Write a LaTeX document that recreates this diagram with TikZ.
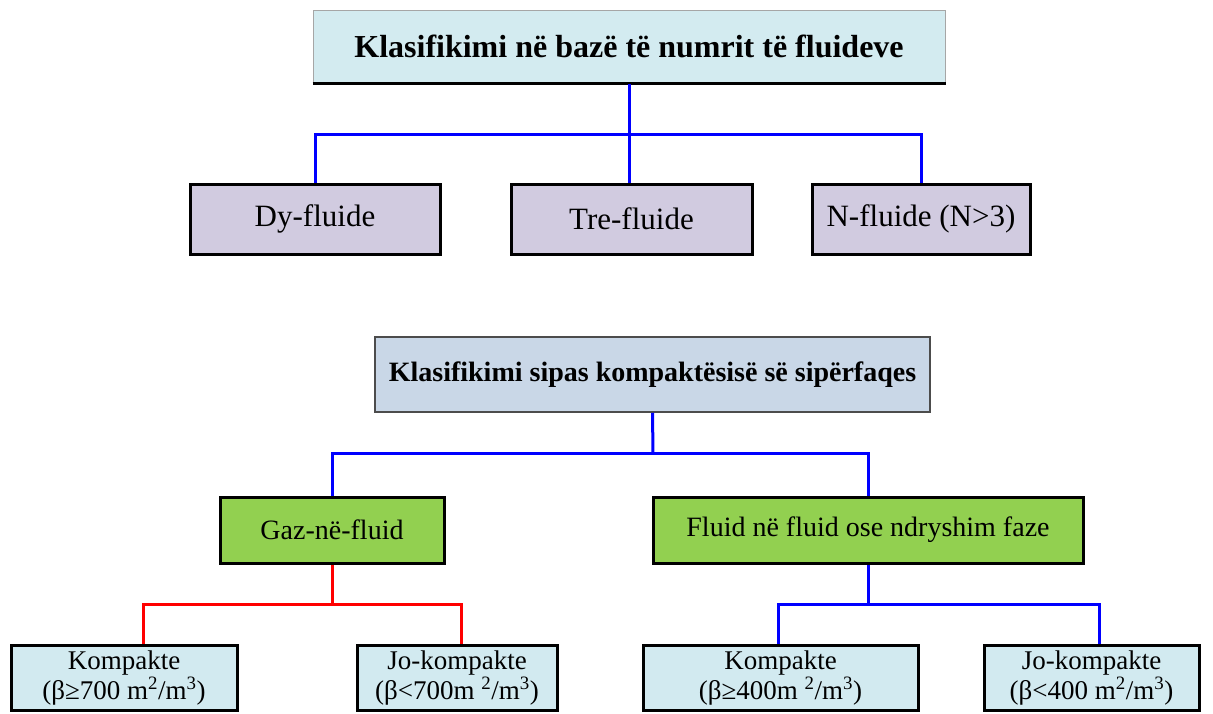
\documentclass[tikz,border=0pt]{standalone}
\usepackage{fontspec}
\setmainfont{Liberation Serif}
\usepackage{xcolor}
\usetikzlibrary{calc}

\definecolor{headcyan}{HTML}{D3EBF0}
\definecolor{lavbox}{HTML}{D1CBE0}
\definecolor{headsteel}{HTML}{C9D7E7}
\definecolor{grnbox}{HTML}{92D050}
\definecolor{leafcyan}{HTML}{D2EAF0}

\begin{document}
\begin{tikzpicture}[
  x=1pt,y=-1pt,
  box/.style={draw,line width=3pt,inner sep=0pt,align=center},
  head/.style={inner sep=0pt,align=center,font=\bfseries\fontsize{32}{36}\selectfont},
  lav/.style={box,fill=lavbox,minimum height=70pt,font=\fontsize{31}{36}\selectfont},
  grn/.style={box,fill=grnbox,minimum height=66pt,font=\fontsize{28}{32}\selectfont},
  leaf/.style={box,fill=leafcyan,minimum height=65pt,font=\fontsize{27}{30}\selectfont},
  bline/.style={blue,line width=3pt},
  rline/.style={red,line width=3pt}]

  \useasboundingbox (0,0) rectangle (1213,713);

  % First classification
  \node[head,fill=headcyan,draw=gray!70,line width=1pt,
        minimum width=632pt,minimum height=73pt] (t1) at (629,46.5)
        {Klasifikimi në bazë të numrit të fluideve};
  \draw[line width=3pt] (t1.south west) -- (t1.south east);

  \node[lav,minimum width=250pt] (dy)  at (315,219)   {Dy-fluide};
  \node[lav,minimum width=241pt] (tre) at (631.5,219) {Tre-fluide};
  \node[lav,minimum width=218pt] (nf)  at (921,219)   {N-fluide (N>3)};

  \coordinate (bus1) at (632,134);
  \draw[bline] (t1.south) -- (t1.south |- tre.north);
  \draw[bline] (dy.north) |- (bus1) -| (nf.north);

  % Second classification
  \node[head,fill=headsteel,draw=black!70,line width=1.5pt,
        minimum width=555pt,minimum height=75pt,
        font=\bfseries\fontsize{28}{32}\selectfont] (t2) at (652.5,374.5)
        {Klasifikimi sipas kompaktësisë së sipërfaqes};

  \node[grn,minimum width=224pt] (gaz) at (332,530) {Gaz-në-fluid};
  \node[grn,minimum width=430pt] (fl)  at (868,530) {Fluid në fluid ose ndryshim faze};

  \coordinate (bus2) at (653,453);
  \draw[bline] (t2.south) -- (bus2);
  \draw[bline] (gaz.north) |- (bus2) -| (fl.north);

  \node[leaf,minimum width=226pt] (k1) at (124,677.5)
        {Kompakte\\(β≥700 m\textsuperscript{2}/m\textsuperscript{3})};
  \node[leaf,minimum width=200pt] (j1) at (457,677.5)
        {Jo-kompakte\\(β<700m \textsuperscript{2}/m\textsuperscript{3})};
  \node[leaf,minimum width=275pt] (k2) at (780.5,677.5)
        {Kompakte\\(β≥400m \textsuperscript{2}/m\textsuperscript{3})};
  \node[leaf,minimum width=215pt] (j2) at (1091.5,677.5)
        {Jo-kompakte\\(β<400 m\textsuperscript{2}/m\textsuperscript{3})};

  % Gas side
  \coordinate (bus3) at (332,604);
  \draw[rline] (gaz.south) -- (bus3);
  \draw[rline] ([xshift=19pt]k1.north) |- (bus3) -| ([xshift=4pt]j1.north);

  % Fluid side
  \coordinate (bus4) at (868,604);
  \draw[bline] (fl.south) -- (bus4);
  \draw[bline] ([xshift=-2.5pt]k2.north) |- (bus4) -| ([xshift=7.5pt]j2.north);
\end{tikzpicture}
\end{document}
